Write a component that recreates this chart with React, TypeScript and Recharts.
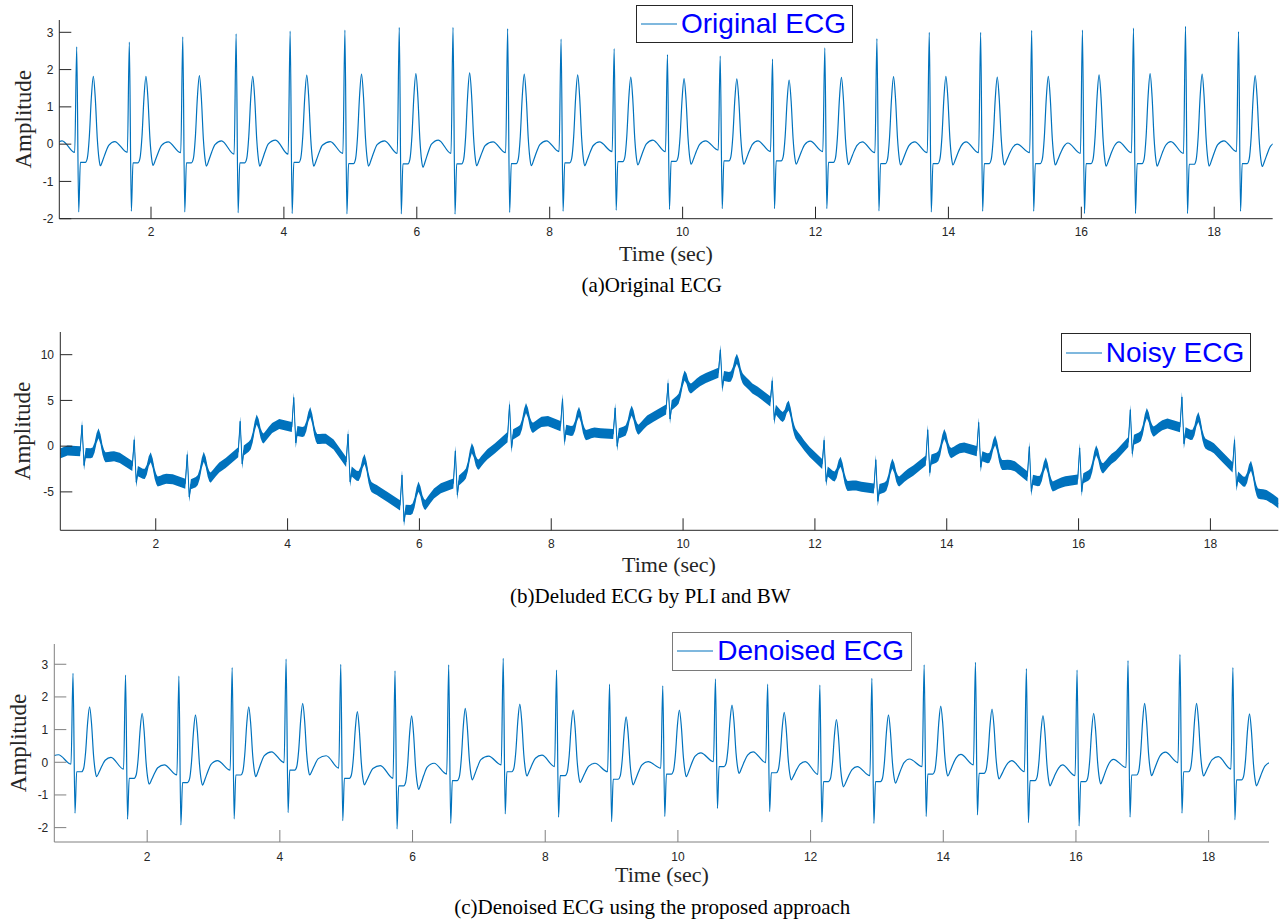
import React from "react";
import { LineChart, ComposedChart, Line, Area, XAxis, YAxis, Legend } from "recharts";

// R-peak times (sec), shared by the three panels
const R_TIMES = [0.882, 1.674, 2.478, 3.281, 4.094, 4.918, 5.736, 6.545, 7.367, 8.171, 8.97, 9.772, 10.566, 11.353, 12.14, 12.924, 13.712, 14.485, 15.253, 16.017, 16.785, 17.568, 18.366];
const NEXT_R = 19.17;

// (a) original ECG, per beat
const ORIG_R = [2.61, 2.74, 2.88, 2.96, 3.03, 3.06, 3.13, 3.13, 3.1, 2.82, 2.56, 2.4, 2.36, 2.28, 2.58, 2.83, 3.0, 3.0, 3.05, 3.06, 3.11, 3.16, 3.02];
const ORIG_S = [-1.82, -1.8, -1.82, -1.84, -1.86, -1.87, -1.87, -1.88, -1.83, -1.8, -1.77, -1.75, -1.73, -1.73, -1.73, -1.79, -1.82, -1.8, -1.8, -1.86, -1.86, -1.86, -1.8];
const ORIG_PLAT = [-0.49, -0.5, -0.5, -0.5, -0.49, -0.52, -0.53, -0.53, -0.52, -0.5, -0.47, -0.46, -0.45, -0.45, -0.49, -0.52, -0.52, -0.52, -0.52, -0.52, -0.52, -0.54, -0.52];
const ORIG_T = [1.82, 1.82, 1.84, 1.82, 1.85, 1.88, 1.89, 1.91, 1.88, 1.86, 1.8, 1.76, 1.75, 1.72, 1.79, 1.81, 1.82, 1.8, 1.82, 1.86, 1.89, 1.88, 1.84];
const ORIG_TROUGH = [-0.58, -0.57, -0.59, -0.59, -0.59, -0.59, -0.62, -0.58, -0.58, -0.58, -0.56, -0.54, -0.54, -0.54, -0.55, -0.56, -0.56, -0.56, -0.56, -0.59, -0.59, -0.59, -0.6];
const ORIG_BUMP = [0.09, 0.07, 0.06, 0.09, 0.11, 0.07, 0.09, 0.11, 0.06, 0.09, 0.06, 0.11, 0.09, 0.09, 0.08, 0.06, 0.06, 0.06, 0.0, 0.03, 0.06, 0.07, 0.09, 0.05];
const ORIG_PRE = [-0.22, -0.22, -0.23, -0.27, -0.27, -0.25, -0.25, -0.25, -0.23, -0.2, -0.2, -0.2, -0.16, -0.2, -0.2, -0.23, -0.23, -0.23, -0.23, -0.25, -0.23, -0.25, -0.2, -0.22];

// (c) denoised ECG, per beat
const DEN_R = [2.72, 2.67, 2.64, 2.9, 3.16, 3.0, 2.8, 2.98, 3.18, 2.82, 2.39, 2.34, 2.55, 2.39, 2.36, 2.57, 2.98, 3.06, 2.87, 2.82, 3.11, 3.3, 2.9];
const DEN_S = [-1.56, -1.74, -1.92, -1.73, -1.54, -1.79, -2.04, -1.87, -1.58, -1.68, -1.82, -1.66, -1.41, -1.51, -1.83, -1.87, -1.66, -1.61, -1.85, -1.95, -1.68, -1.56, -1.76];
const DEN_PLAT = [-0.29, -0.49, -0.62, -0.39, -0.24, -0.49, -0.72, -0.56, -0.29, -0.41, -0.52, -0.36, -0.13, -0.32, -0.59, -0.59, -0.36, -0.34, -0.56, -0.59, -0.39, -0.29, -0.54];
const DEN_T = [1.7, 1.5, 1.45, 1.7, 1.8, 1.55, 1.42, 1.65, 1.78, 1.6, 1.39, 1.6, 1.75, 1.53, 1.31, 1.45, 1.72, 1.63, 1.43, 1.5, 1.8, 1.8, 1.48];
const DEN_TROUGH = [-0.44, -0.67, -0.7, -0.44, -0.39, -0.69, -0.83, -0.54, -0.42, -0.62, -0.69, -0.44, -0.34, -0.54, -0.75, -0.64, -0.42, -0.51, -0.72, -0.66, -0.41, -0.42, -0.72];
const DEN_BUMP = [0.23, 0.15, -0.08, 0.05, 0.32, 0.2, -0.1, -0.03, 0.19, 0.22, -0.03, 0.02, 0.29, 0.32, 0.02, -0.13, 0.1, 0.24, 0.05, -0.08, 0.09, 0.31, 0.17, 0.0];
const DEN_PRE = [-0.06, -0.21, -0.39, -0.24, -0.01, -0.18, -0.49, -0.36, -0.08, -0.13, -0.29, -0.18, 0.02, -0.01, -0.37, -0.41, -0.13, -0.08, -0.29, -0.41, -0.16, -0.01, -0.21, -0.2];

// (b) baseline wander [time, level]
const BW_KNOTS: [number, number][] = [
  [0.5, -0.8], [0.55, -0.75], [0.7, -0.5], [0.84, -0.35], [0.96, -0.25], [1.13, -0.4], [1.23, -0.6], [1.31, -0.9],
  [1.63, -1.9], [1.75, -2.3], [1.93, -3.05], [2.03, -3.3], [2.2, -3.6], [2.44, -3.9], [2.56, -3.6], [2.73, -3.0],
  [2.82, -2.9], [3.17, -1.5], [3.25, -0.4], [3.38, 0.25], [3.53, 1.1], [3.63, 1.4], [3.84, 2.3], [4.05, 2.4],
  [4.17, 2.1], [4.34, 1.9], [4.44, 1.4], [4.64, 0.6], [4.88, -1.4], [5.0, -2.5], [5.17, -3.3], [5.27, -3.85],
  [5.45, -5.45], [5.71, -6.24], [5.83, -6.5], [6.0, -6.3], [6.11, -5.7], [6.53, -3.76], [6.65, -2.86], [6.82, -2.0],
  [6.92, -1.3], [7.12, -0.5], [7.34, 1.24], [7.46, 2.07], [7.63, 2.3], [7.73, 2.6], [7.91, 2.7], [8.13, 2.4],
  [8.26, 2.25], [8.42, 1.9], [8.52, 1.8], [8.75, 1.35], [8.95, 1.53], [9.07, 2.07], [9.24, 2.1], [9.34, 2.4],
  [9.55, 3.1], [9.74, 4.2], [9.86, 5.2], [10.03, 6.0], [10.13, 6.9], [10.31, 7.2], [10.53, 8.2], [10.65, 8.1],
  [10.82, 7.8], [10.92, 7.8], [11.07, 6.1], [11.31, 5.2], [11.43, 4.26], [11.6, 2.75], [11.7, 2.0], [11.88, -0.5],
  [12.11, -1.75], [12.23, -2.5], [12.39, -3.5], [12.51, -3.85], [12.69, -4.5], [12.89, -4.4], [13.01, -4.1], [13.18, -3.7],
  [13.28, -3.3], [13.47, -2.9], [13.67, -1.4], [13.79, -0.85], [13.96, -0.5], [14.06, -0.2], [14.25, -0.2], [14.45, -0.3],
  [14.57, -0.67], [14.74, -1.16], [14.84, -1.5], [15.06, -2.3], [15.22, -3.07], [15.34, -3.2], [15.51, -3.6], [15.61, -3.85],
  [15.77, -3.95], [15.98, -3.43], [16.1, -2.86], [16.27, -2.3], [16.37, -1.85], [16.58, -1.05], [16.74, 0.59], [16.86, 1.34],
  [17.03, 1.7], [17.13, 2.17], [17.34, 2.4], [17.53, 2.34], [17.65, 1.96], [17.82, 1.3], [17.92, 0.9], [18.15, -1.05],
  [18.35, -2.2], [18.47, -3.2], [18.64, -4.1], [18.76, -4.8], [19.03, -6.3], [19.2, -6.8],
];
const PLI_HALF = 0.55; // half height of the power-line band

const X_TICKS = [2, 4, 6, 8, 10, 12, 14, 16, 18];
const Y_TICKS_A = [-2, -1, 0, 1, 2, 3];
const Y_TICKS_B = [-5, 0, 5, 10];
const Y_TICKS_C = [-2, -1, 0, 1, 2, 3];

// wave shape around each R peak: [offset s, fraction]
const T_RISE = [[0.16, 0.05], [0.19, 0.3], [0.22, 0.75]];
const T_FALL = [[0.28, 0.75], [0.31, 0.3], [0.335, 0.08]];
const RECOVER = [[0.395, 0.25], [0.435, 0.55], [0.485, 0.85]];

type BeatSet = { r: number[]; s: number[]; plat: number[]; t: number[]; trough: number[]; bump: number[]; pre: number[]; lead: number };

function buildEcg(b: BeatSet) {
  const rows: { t: number; v: number }[] = [];
  const add = (t: number, v: number) => rows.push({ t: Math.round(t * 1000) / 1000, v });
  add(0.5, b.lead);
  add(R_TIMES[0] - 0.22, b.bump[0]);
  R_TIMES.forEach((r, k) => {
    const rn = k + 1 < R_TIMES.length ? R_TIMES[k + 1] : NEXT_R;
    const P = b.plat[k], T = b.t[k], Q = b.trough[k], U = b.bump[k + 1];
    add(r - 0.03, b.pre[k]);
    add(r, b.r[k]);
    add(r + 0.03, b.s[k]);
    add(r + 0.055, P);
    add(r + 0.13, P);
    T_RISE.forEach(([dt, f]) => add(r + dt, P + f * (T - P)));
    add(r + 0.25, T);
    T_FALL.forEach(([dt, f]) => add(r + dt, Q + f * (T - Q)));
    add(r + 0.355, Q);
    RECOVER.forEach(([dt, f]) => add(r + dt, Q + f * (U - Q)));
    add(rn - 0.22, U);
  });
  add(NEXT_R - 0.03, b.pre[R_TIMES.length]);
  return rows;
}

function wander(t: number) {
  for (let i = 0; i < BW_KNOTS.length - 1; i++) {
    const [t0, v0] = BW_KNOTS[i];
    const [t1, v1] = BW_KNOTS[i + 1];
    if (t <= t1) return v0 + ((t - t0) / (t1 - t0)) * (v1 - v0);
  }
  return BW_KNOTS[BW_KNOTS.length - 1][1];
}

const origData = buildEcg({ r: ORIG_R, s: ORIG_S, plat: ORIG_PLAT, t: ORIG_T, trough: ORIG_TROUGH, bump: ORIG_BUMP, pre: ORIG_PRE, lead: -0.15 });
const denData = buildEcg({ r: DEN_R, s: DEN_S, plat: DEN_PLAT, t: DEN_T, trough: DEN_TROUGH, bump: DEN_BUMP, pre: DEN_PRE, lead: 0.12 });
const noisyData = origData.map((p) => {
  const v = p.v + wander(p.t);
  return { t: p.t, v, band: [v - PLI_HALF, v + PLI_HALF] };
});

const BLUE = "#0072BD";
const SANS = "'Liberation Sans', Arial, Helvetica, sans-serif";
const SERIF = "'Liberation Serif', 'Times New Roman', serif";

function LegendBox({ label, width, height, border }: { label: string; width: number; height: number; border: string }) {
  return (
    <div style={{ width, height, boxSizing: "border-box", border: `1px solid ${border}`, background: "#fff", display: "flex", alignItems: "center", paddingLeft: 4 }}>
      <svg width={36} height={4} style={{ display: "block" }}>
        <line x1={0} y1={2} x2={36} y2={2} stroke={BLUE} strokeWidth={1.2} />
      </svg>
      <span style={{ marginLeft: 4, fontFamily: SANS, fontSize: 28, color: "#0000FF", lineHeight: 1, whiteSpace: "nowrap" }}>{label}</span>
    </div>
  );
}

function Frame({ domX, domY, yTicks, yWidth, xMargin, yMargin, color }: any) {
  const tick = { fontSize: 12, fill: "#262626", fontFamily: SANS };
  return [
    <XAxis key="xb" xAxisId={0} type="number" dataKey="t" domain={domX} allowDataOverflow ticks={X_TICKS} interval={0} tickSize={-12} tickMargin={xMargin} height={20} stroke={color} tick={tick} />,
    <XAxis key="xt" xAxisId="top" orientation="top" type="number" dataKey="t" domain={domX} allowDataOverflow ticks={X_TICKS} interval={0} tickSize={-12} height={0} stroke={color} tick={false} />,
    <YAxis key="yl" yAxisId={0} type="number" domain={domY} allowDataOverflow ticks={yTicks} interval={0} tickSize={-12} tickMargin={yMargin} width={yWidth} stroke={color} tick={tick} />,
    <YAxis key="yr" yAxisId="right" orientation="right" type="number" domain={domY} allowDataOverflow ticks={yTicks} interval={0} tickSize={-12} width={0} stroke={color} tick={false} />,
  ];
}

export default function App() {
  return (
    <div style={{ position: "absolute", left: 0, top: 0, width: 1282, height: 921, background: "#fff" }}>
      <div style={{ position: "absolute", left: 0, top: 0 }}>
        <LineChart width={1282} height={240} data={origData} margin={{ top: 20, right: 9.3, left: 0, bottom: 1.3 }}>
          {Frame({ domX: [0.62, 18.88], domY: [-2, 3.33], yTicks: Y_TICKS_A, yWidth: 59.3, xMargin: 21, yMargin: 17.8, color: "#262626" })}
          <Line type="monotoneX" dataKey="v" stroke={BLUE} strokeWidth={1.2} dot={false} isAnimationActive={false} />
          <Legend layout="horizontal" verticalAlign="middle" align="center" wrapperStyle={{ left: 636, top: 5, width: 217, height: 38 }} content={() => <LegendBox label="Original ECG" width={217} height={38} border="#262626" />} />
        </LineChart>
      </div>
      <div style={{ position: "absolute", left: 0, top: 310 }}>
        <ComposedChart width={1282} height={245} data={noisyData} margin={{ top: 22, right: 3.7, left: 0, bottom: 4.7 }}>
          {Frame({ domX: [0.552, 19.03], domY: [-9.2, 12.48], yTicks: Y_TICKS_B, yWidth: 60.3, xMargin: 21.4, yMargin: 18.3, color: "#262626" })}
          <Area type="linear" dataKey="band" stroke="none" fill={BLUE} fillOpacity={1} legendType="none" isAnimationActive={false} />
          <Line type="linear" dataKey="v" stroke={BLUE} strokeWidth={1} dot={false} isAnimationActive={false} />
          <Legend layout="horizontal" verticalAlign="middle" align="center" wrapperStyle={{ left: 1060.7, top: 23.3, width: 190, height: 39 }} content={() => <LegendBox label="Noisy ECG" width={190} height={39} border="#262626" />} />
        </ComposedChart>
      </div>
      <div style={{ position: "absolute", left: 0, top: 620 }}>
        <LineChart width={1282} height={250} data={denData} margin={{ top: 24, right: 13, left: 0, bottom: 8 }}>
          {Frame({ domX: [0.6, 18.91], domY: [-2.44, 3.62], yTicks: Y_TICKS_C, yWidth: 54.3, xMargin: 22, yMargin: 18, color: "#808080" })}
          <Line type="monotoneX" dataKey="v" stroke={BLUE} strokeWidth={1.2} dot={false} isAnimationActive={false} />
          <Legend layout="horizontal" verticalAlign="middle" align="center" wrapperStyle={{ left: 672.3, top: 11.7, width: 239.4, height: 39 }} content={() => <LegendBox label="Denoised ECG" width={239.4} height={39} border="#7a7a7a" />} />
        </LineChart>
      </div>
      <svg width={1282} height={921} style={{ position: "absolute", left: 0, top: 0, pointerEvents: "none" }}>
        <g fontFamily={SERIF} fill="#262626">
          <text x={24} y={119.3} fontSize={23} textAnchor="middle" dominantBaseline="central" transform="rotate(-90 24 119.3)">Amplitude</text>
          <text x={22.5} y={431} fontSize={23} textAnchor="middle" dominantBaseline="central" transform="rotate(-90 22.5 431)">Amplitude</text>
          <text x={18.5} y={743} fontSize={23} textAnchor="middle" dominantBaseline="central" transform="rotate(-90 18.5 743)">Amplitude</text>
          <text x={666} y={261} fontSize={22} textAnchor="middle">Time (sec)</text>
          <text x={669} y={572} fontSize={22} textAnchor="middle">Time (sec)</text>
          <text x={662} y={882} fontSize={22} textAnchor="middle">Time (sec)</text>
        </g>
        <g fontFamily={SERIF} fill="#000" fontSize={21} textAnchor="middle">
          <text x={651.7} y={292}>(a)Original ECG</text>
          <text x={650.3} y={603}>(b)Deluded ECG by PLI and BW</text>
          <text x={652.3} y={914}>(c)Denoised ECG using the proposed approach</text>
        </g>
      </svg>
    </div>
  );
}
